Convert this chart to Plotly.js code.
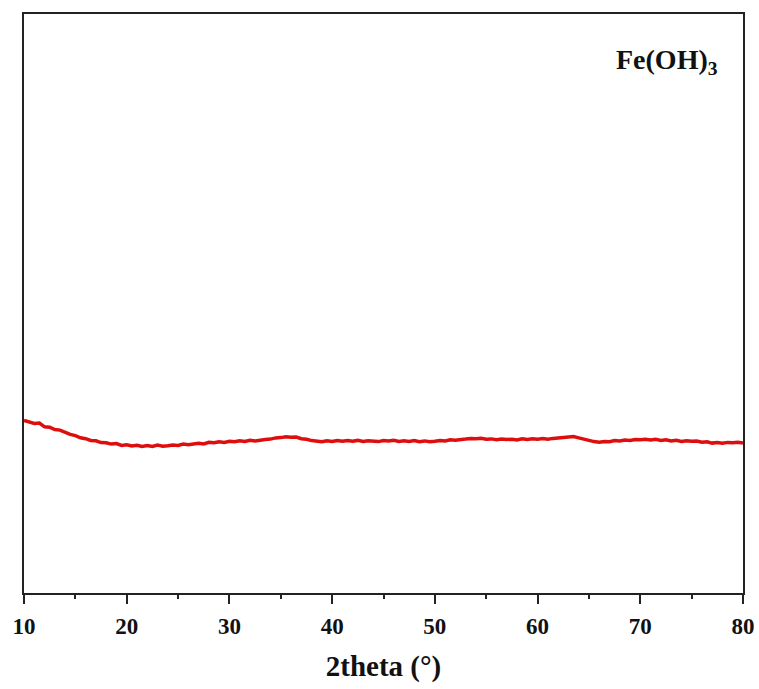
<!DOCTYPE html>
<html>
<head>
<meta charset="utf-8">
<script src="https://cdn.plot.ly/plotly-3.0.1.min.js"></script>
<style>html,body{margin:0;padding:0;background:#fff;}#chart{width:759px;height:689px;}</style>
</head>
<body>
<div id="chart"></div>
<script>
const twoTheta = [10.0,10.5,11.0,11.5,12.0,12.5,13.0,13.5,14.0,14.5,15.0,15.5,16.0,16.5,17.0,17.5,18.0,18.5,19.0,19.5,
20.0,20.5,21.0,21.5,22.0,22.5,23.0,23.5,24.0,24.5,25.0,25.5,26.0,26.5,27.0,27.5,28.0,28.5,29.0,29.5,
30.0,30.5,31.0,31.5,32.0,32.5,33.0,33.5,34.0,34.5,35.0,35.5,36.0,36.5,37.0,37.5,38.0,38.5,39.0,39.5,
40.0,40.5,41.0,41.5,42.0,42.5,43.0,43.5,44.0,44.5,45.0,45.5,46.0,46.5,47.0,47.5,48.0,48.5,49.0,49.5,
50.0,50.5,51.0,51.5,52.0,52.5,53.0,53.5,54.0,54.5,55.0,55.5,56.0,56.5,57.0,57.5,58.0,58.5,59.0,59.5,
60.0,60.5,61.0,61.5,62.0,62.5,63.0,63.5,64.0,64.5,65.0,65.5,66.0,66.5,67.0,67.5,68.0,68.5,69.0,69.5,
70.0,70.5,71.0,71.5,72.0,72.5,73.0,73.5,74.0,74.5,75.0,75.5,76.0,76.5,77.0,77.5,78.0,78.5,79.0,79.5,80.0];
const intensity = [172.5,170.8,169.6,169.9,166.2,165.8,163.4,162.9,160.3,158.6,157.4,155.2,154.3,152.6,152.2,150.4,150.3,148.9,149.4,147.6,
148.3,147.1,147.8,146.6,147.4,146.5,147.9,146.8,147.3,148.1,147.6,148.9,148.2,149.3,149.8,149.1,150.7,150.2,151.3,150.6,
151.8,151.2,152.3,151.6,152.8,152.1,153.2,153.6,153.9,155.1,155.4,156.3,155.7,155.9,154.3,153.8,152.4,151.9,151.2,152.3,
151.6,152.4,151.7,152.5,151.8,152.6,151.5,152.3,152.0,151.4,152.5,151.9,152.7,151.6,152.2,151.5,152.4,151.3,152.1,151.2,
151.7,152.4,152.1,153.3,152.8,153.7,153.9,154.6,154.2,154.8,153.7,154.1,153.2,153.9,153.4,153.8,153.1,154.2,153.6,154.3,
153.8,154.4,153.7,154.6,154.9,155.4,155.8,156.4,155.1,153.6,152.3,151.4,150.8,151.6,151.2,152.4,152.1,152.9,152.6,153.4,
153.2,153.8,153.1,153.7,152.6,153.2,152.1,152.7,151.6,152.3,151.7,151.9,150.8,151.3,149.9,150.5,149.7,150.6,150.2,150.8,149.9];
const xTickVals = [10,20,30,40,50,60,70,80];
const xTickText = ['10','20','30','40','50','60','70','80'];
const sampleLabel = 'Fe(OH)<sub>3</sub>';
const xTitle = '2theta (°)';

const font = 'Liberation Serif, Times New Roman, serif';
Plotly.newPlot('chart', [{
  x: twoTheta, y: intensity, type: 'scatter', mode: 'lines',
  line: {color: 'rgb(222,14,14)', width: 3.5}, showlegend: false, hoverinfo: 'skip'
}], {
  width: 759, height: 689,
  margin: {l: 24, r: 16, t: 14, b: 96},
  paper_bgcolor: '#fff', plot_bgcolor: '#fff',
  xaxis: {
    range: [10, 80], tickvals: xTickVals, ticktext: xTickText,
    ticks: 'outside', ticklen: 9, tickwidth: 2, tickcolor: '#222',
    minor: {dtick: 5, tick0: 5, ticks: 'outside', ticklen: 4, tickwidth: 2, tickcolor: '#222', showgrid: false},
    showline: true, linecolor: '#222', linewidth: 2, mirror: true,
    showgrid: false, zeroline: false,
    tickfont: {family: font, size: 23, color: '#111', weight: 'bold'},
    ticklabelstandoff: 2,
    title: {text: xTitle, font: {family: font, size: 29, color: '#111', weight: 'bold'}, standoff: 18}
  },
  yaxis: {
    range: [0, 579], showticklabels: false, ticks: '',
    showline: true, linecolor: '#222', linewidth: 2, mirror: true,
    showgrid: false, zeroline: false
  },
  annotations: [{
    xref: 'paper', yref: 'paper', x: 0.968, y: 0.918, xanchor: 'right', yanchor: 'middle',
    text: sampleLabel, showarrow: false,
    font: {family: font, size: 28, color: '#111', weight: 'bold'}
  }]
}, {staticPlot: true});
</script>
</body>
</html>
